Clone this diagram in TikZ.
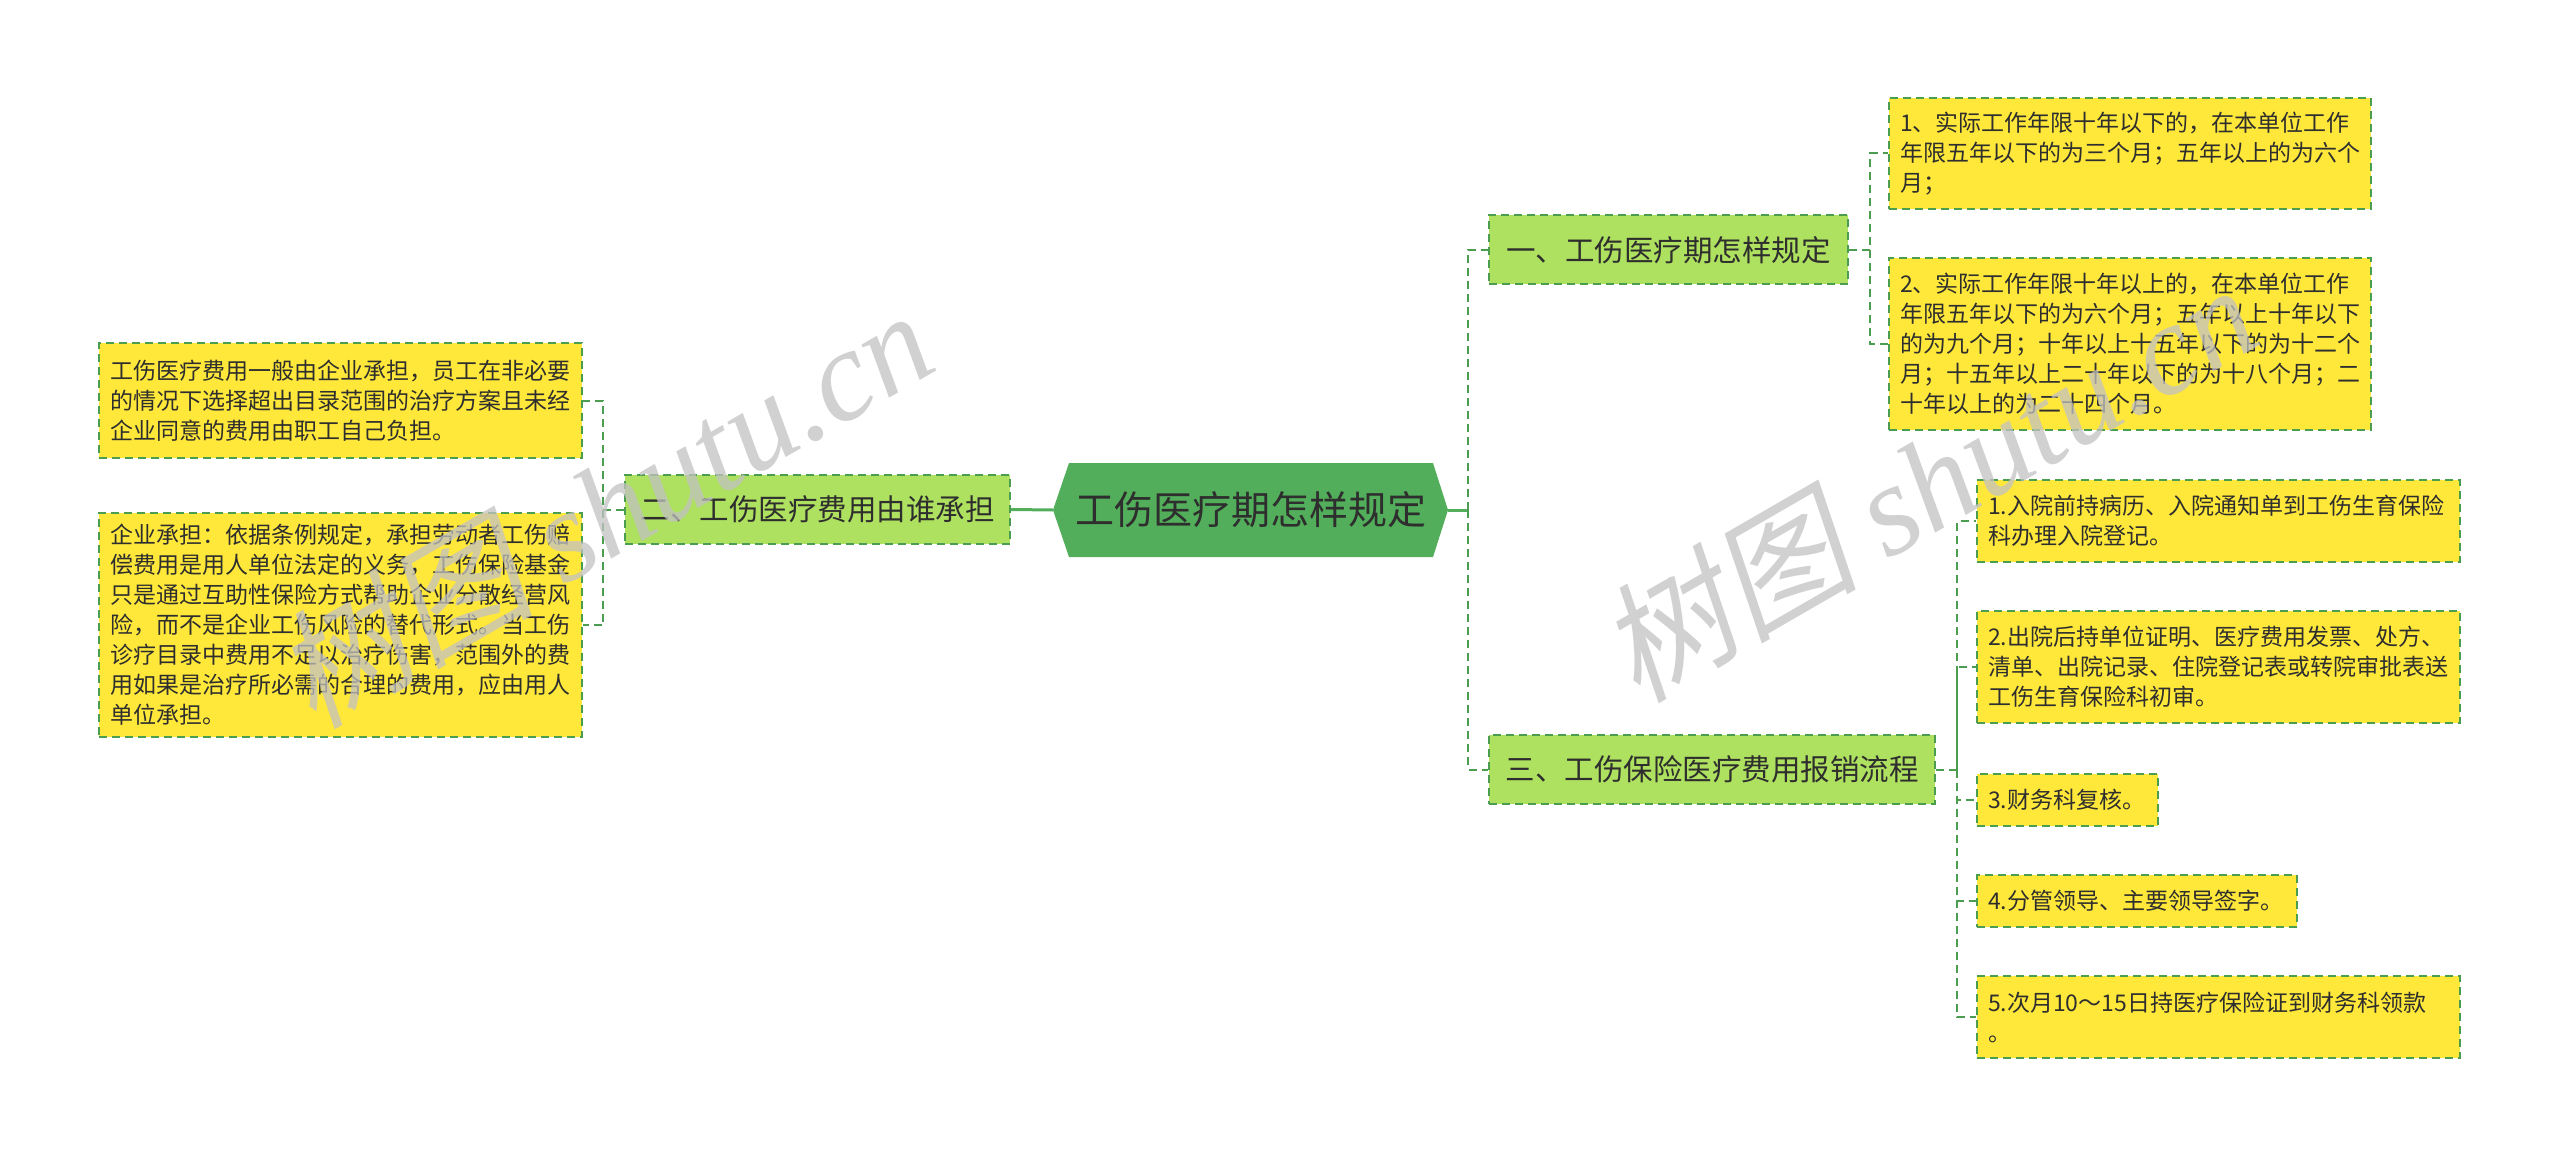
\documentclass[tikz,border=0pt]{standalone}
\usepackage{fontspec}
\setmainfont{Noto Sans CJK SC}
\newfontfamily\wmcjk[FakeSlant=0.2]{Noto Sans CJK SC}
\newfontfamily\wmlatin{Liberation Serif}
\definecolor{yel}{HTML}{FFE83A}
\definecolor{lgreen}{HTML}{AEE15F}
\definecolor{rootg}{HTML}{52AE5A}
\definecolor{dgreen}{HTML}{4B9E4F}
\definecolor{txt}{HTML}{2E2E2E}
\definecolor{wmgray}{HTML}{C2C2C2}
\begin{document}
\begin{tikzpicture}[x=1pt,y=-1pt,
  leaf/.style 2 args={draw=dgreen, line width=2pt, dash pattern=on 8pt off 5pt,
    fill=yel, text=txt, inner xsep=11pt, inner ysep=0pt, align=left,
    text width=#1, minimum height=#2, font=\fontsize{23}{30}\selectfont},
  topic/.style={draw=dgreen, line width=2pt, dash pattern=on 8pt off 5pt,
    fill=lgreen, text=txt, inner sep=0pt, minimum width=#1, minimum height=69pt,
    font=\fontsize{29.5}{35}\selectfont},
  rootnode/.style={inner sep=0pt, minimum width=395pt, minimum height=94pt, text=txt,
    font=\fontsize{39}{45}\selectfont, fill=white,
    path picture={\fill[rootg] (path picture bounding box.west)
      -- ([xshift=16pt]path picture bounding box.north west)
      -- ([xshift=-15pt]path picture bounding box.north east)
      -- (path picture bounding box.east)
      -- ([xshift=-15pt]path picture bounding box.south east)
      -- ([xshift=16pt]path picture bounding box.south west) -- cycle;}},
  conn/.style={draw=dgreen, line width=2pt, dash pattern=on 8pt off 5pt},
  solidconn/.style={draw=rootg, line width=3pt},
  wm/.style={text=wmgray, opacity=0.75, inner sep=0pt, font=\fontsize{130}{130}\selectfont}
]
\fill[white] (0,0) rectangle (2560,1158);
\useasboundingbox (0,0) rectangle (2560,1158);

% root
\node[rootnode] (root) at (1250.5,510) {工伤医疗期怎样规定};

% left branch
\node[topic=385pt] (n2) at (817.5,509.5) {二、工伤医疗费用由谁承担};
\node[leaf={461pt}{115pt}] (c21) at (340.5,400.5) {工伤医疗费用一般由企业承担，员工在非必要\\的情况下选择超出目录范围的治疗方案且未经\\企业同意的费用由职工自己负担。};
\node[leaf={461pt}{224pt}] (c22) at (340.5,625) {企业承担：依据条例规定，承担劳动者工伤赔\\偿费用是用人单位法定的义务，工伤保险基金\\只是通过互助性保险方式帮助企业分散经营风\\险，而不是企业工伤风险的替代形式。当工伤\\诊疗目录中费用不足以治疗伤害，范围外的费\\用如果是治疗所必需的合理的费用，应由用人\\单位承担。};

% right upper branch
\node[topic=359pt] (n1) at (1668.5,250) {一、工伤医疗期怎样规定};
\node[leaf={460pt}{111pt}] (c11) at (2130,153.5) {1、实际工作年限十年以下的，在本单位工作\\年限五年以下的为三个月；五年以上的为六个\\月；};
\node[leaf={460pt}{172pt}] (c12) at (2130,344) {2、实际工作年限十年以上的，在本单位工作\\年限五年以下的为六个月；五年以上十年以下\\的为九个月；十年以上十五年以下的为十二个\\月；十五年以上二十年以下的为十八个月；二\\十年以上的为二十四个月。};

% right lower branch
\node[topic=446pt] (n3) at (1712,769.5) {三、工伤保险医疗费用报销流程};
\node[leaf={461pt}{82pt}] (c31) at (2218.5,521) {1.入院前持病历、入院通知单到工伤生育保险\\科办理入院登记。};
\node[leaf={461pt}{112pt}] (c32) at (2218.5,667) {2.出院后持单位证明、医疗费用发票、处方、\\清单、出院记录、住院登记表或转院审批表送\\工伤生育保险科初审。};
\node[leaf={159pt}{52pt}] (c33) at (2067.5,800) {3.财务科复核。};
\node[leaf={298pt}{52pt}] (c34) at (2137,901) {4.分管领导、主要领导签字。};
\node[leaf={461pt}{82pt}] (c35) at (2218.5,1017) {5.次月10～15日持医疗保险证到财务科领款\\。};

% connectors
\draw[solidconn] (root.west) -- (n2.east);
\draw[solidconn] (root.east) -- ++(20,0) coordinate (mt);
\draw[conn] (mt) |- (n1.west);
\draw[conn] (mt) |- (n3.west);

\draw[conn] (n2.west) -- ++(-21,0) coordinate (t2) |- (c21.east);
\draw[conn] (t2) |- (c22.east);

\draw[conn] (n1.east) -- ++(21,0) coordinate (t1) |- (c11.west);
\draw[conn] (t1) |- (c12.west);

\draw[conn] (n3.east) -- ++(21,0) coordinate (t3) |- (c31.west);
\draw[conn] (t3) |- (c32.west);
\draw[conn] (t3) |- (c33.west);
\draw[conn] (t3) |- (c34.west);
\draw[conn] (t3) |- (c35.west);

% watermarks
\node[wm, rotate=30, anchor=base west] (wmL) at (313,731) {\wmcjk 树图 \wmlatin\itshape shutu.cn};
\node[wm, rotate=30, anchor=base west] (wmR) at (1637,705) {\wmcjk 树图 \wmlatin\itshape shutu.cn};
\end{tikzpicture}
\end{document}
